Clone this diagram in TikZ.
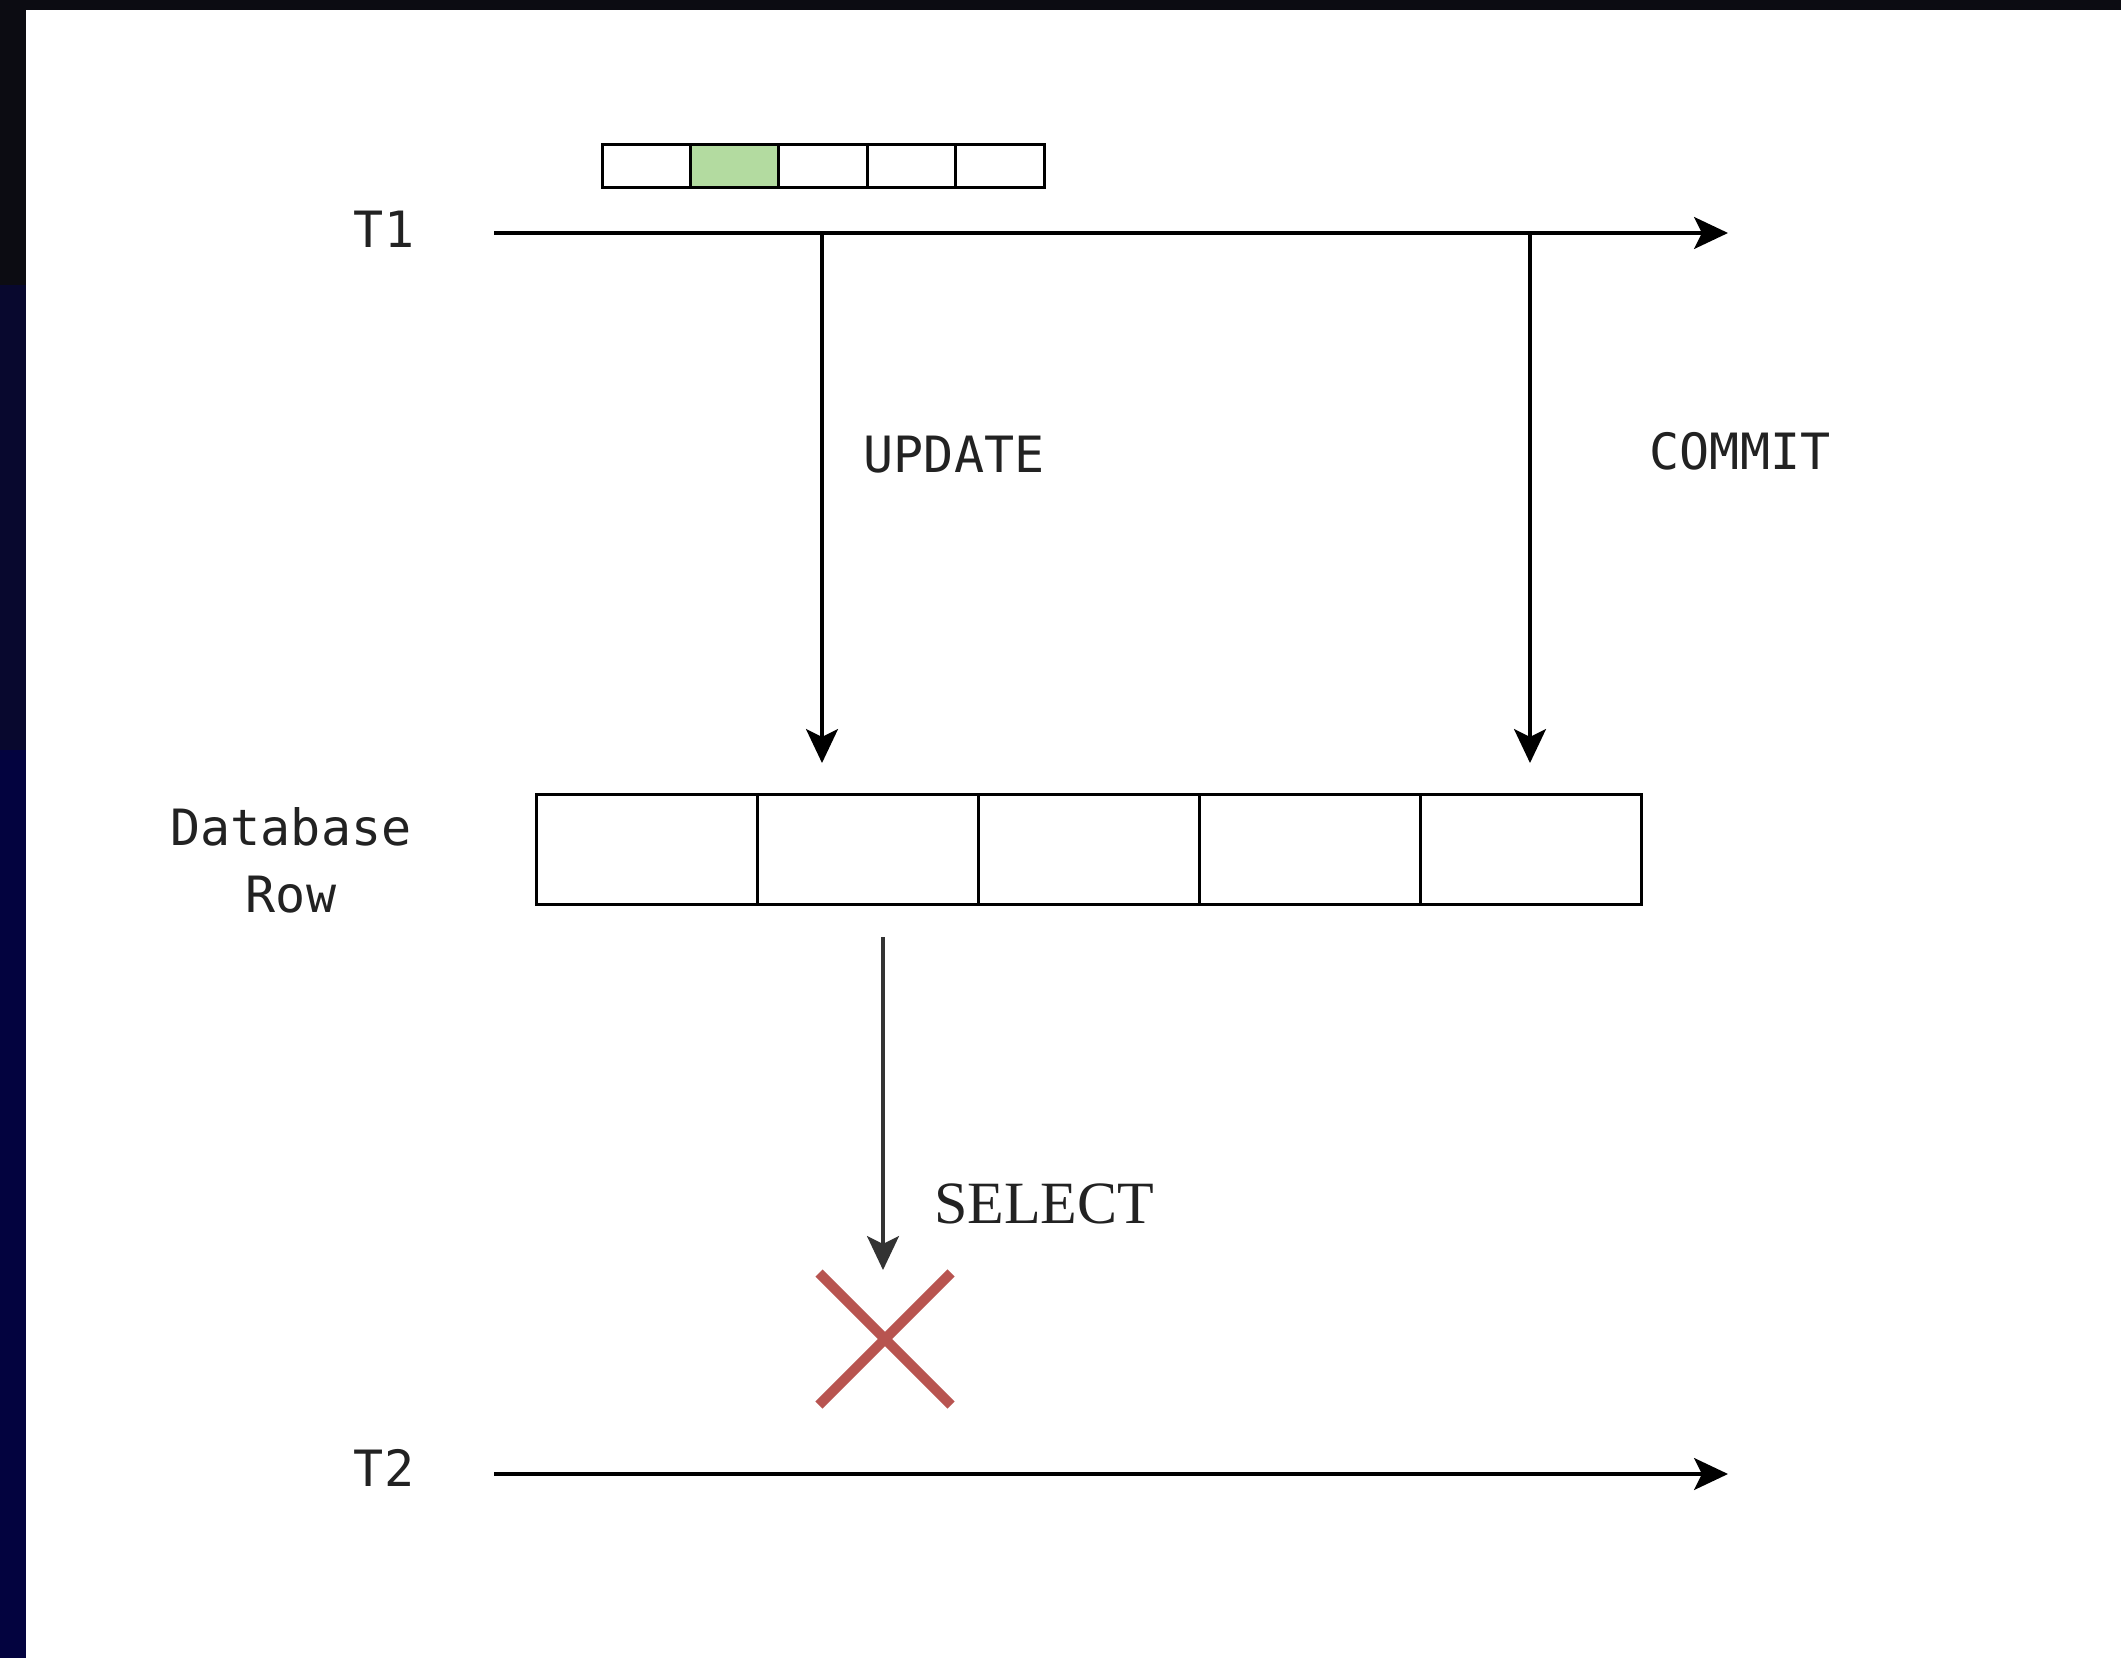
\documentclass[tikz,border=0pt]{standalone}
\usepackage{fontspec}
\usetikzlibrary{arrows.meta}
\newfontfamily\monof{DejaVu Sans Mono}
\newfontfamily\seriff{Liberation Serif}
\definecolor{frameA}{HTML}{0C0C12}
\definecolor{frameB}{HTML}{08082E}
\definecolor{frameC}{HTML}{03033F}
\definecolor{cellgreen}{HTML}{B3DBA0}
\definecolor{textc}{HTML}{222222}
\definecolor{xred}{HTML}{B85450}
\begin{document}
\begin{tikzpicture}[x=0.5pt,y=-0.5pt,
  cell/.style={draw=black, line width=1.5pt, minimum width=44.2pt, minimum height=21.5pt, inner sep=0pt, outer sep=0pt},
  dbcell/.style={cell, minimum width=110.5pt, minimum height=55pt},
  lbl/.style={font=\monof\fontsize{25}{33.5}\selectfont, text=textc, inner sep=0pt, align=center},
  flow/.style={line width=1.6pt, -{Stealth[length=17pt,width=16pt,inset=4pt]}},
  cross/.style={draw=xred, line width=5pt}]
\useasboundingbox (0,0) rectangle (2121,1658);
% frame
\fill[frameC] (0,0) rectangle (2121,1658);
\fill[frameA] (0,0) rectangle (2121,285);
\fill[frameB] (0,285) rectangle (26,750);
\fill[white] (26,10) rectangle (2121,1658);
% small row on T1
\node[cell] (s1) at (646.2,166.5) {};
\node[cell, fill=cellgreen] (s2) at (734.6,166.5) {};
\node[cell] (s3) at (823,166.5) {};
\node[cell] (s4) at (911.4,166.5) {};
\node[cell] (s5) at (999.8,166.5) {};
% database row
\node[dbcell] (d1) at (646.5,849) {};
\node[dbcell] (d2) at (867.5,849) {};
\node[dbcell] (d3) at (1088.5,849) {};
\node[dbcell] (d4) at (1309.5,849) {};
\node[dbcell] (d5) at (1530.5,849) {};
% labels
\node[lbl] (t1) at (384,229) {T1};
\node[lbl] (t2) at (384,1468) {T2};
\node[lbl] (db) at (291,860) {Database\\Row};
\node[lbl] (upd) at (954,455) {UPDATE};
\node[lbl] (com) at (1740,451) {COMMIT};
\node[font=\seriff\fontsize{30}{36}\selectfont, text=textc, inner sep=0pt] (sel) at (1044,1204) {SELECT};
% timelines
\coordinate (t1s) at (494,233);
\coordinate (t1e) at (1728,233);
\coordinate (t2s) at (494,1474);
\coordinate (t2e) at (1728,1474);
\draw[flow] (t1s) -- (t1e);
\draw[flow] (t2s) -- (t2e);
% update / commit
\coordinate (us) at (822,233);
\coordinate (ue) at (822,763);
\coordinate (cs) at (1530,233);
\coordinate (ce) at (1530,763);
\draw[flow] (us) -- (ue);
\draw[flow] (cs) -- (ce);
% select
\coordinate (ss) at (883,937);
\coordinate (se) at (883,1270);
\draw[flow, draw=black!80] (ss) -- (se);
% red cross
\coordinate (xc) at (885,1339);
\draw[cross] (819,1273) -- (951,1405);
\draw[cross] (819,1405) -- (951,1273);
\end{tikzpicture}
\end{document}
